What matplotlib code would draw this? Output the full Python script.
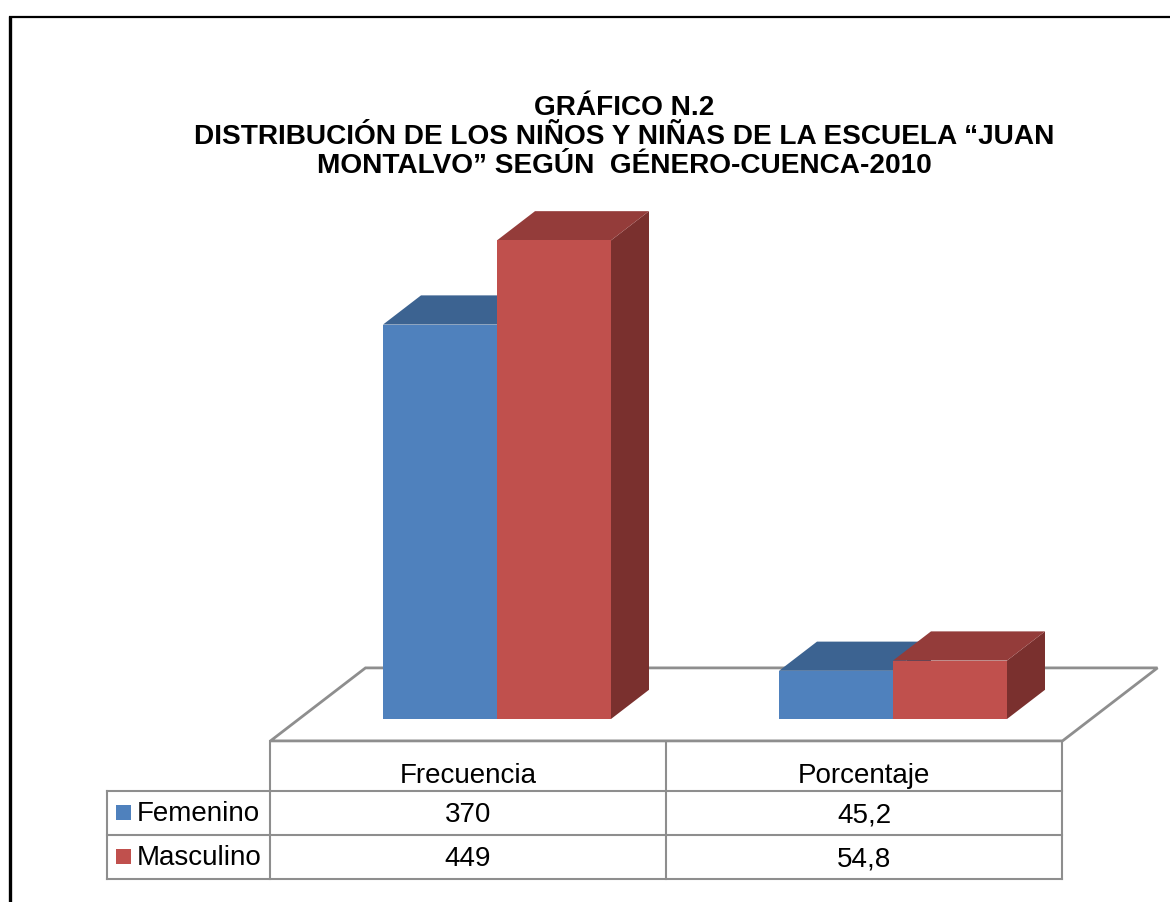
import matplotlib.pyplot as plt
from matplotlib.patches import Polygon, Rectangle

# datos
categorias = ['Frecuencia', 'Porcentaje']
series = ['Femenino', 'Masculino']
femenino = [370, 45.2]
masculino = [449, 54.8]
texto_fem = ['370', '45,2']
texto_mas = ['449', '54,8']

titulo = ('GRÁFICO N.2\n'
          'DISTRIBUCIÓN DE LOS NIÑOS Y NIÑAS DE LA ESCUELA “JUAN\n'
          'MONTALVO” SEGÚN  GÉNERO-CUENCA-2010')

# colores (frente, arriba, lado)
col_fem = ('#4F81BD', '#3C6391', '#2F4E74')
col_mas = ('#C0504D', '#943C3A', '#7A302E')
gris = '#8E8E8E'

plt.rcParams['font.family'] = ['Liberation Sans', 'DejaVu Sans']

W, H = 1170, 902
fig = plt.figure(figsize=(W / 100, H / 100), dpi=100)

# capa en pixeles para marco y tabla
lay = fig.add_axes([0, 0, 1, 1])
lay.set_xlim(0, W)
lay.set_ylim(H, 0)
lay.axis('off')

# ejes de las barras
ymax = 500
ax = fig.add_axes([299 / W, (H - 719) / H, 792 / W, 533 / H])
ax.set_xlim(-0.5, len(categorias) - 0.5)
ax.set_ylim(0, ymax)
ax.axis('off')

# profundidad del piso (en unidades de datos)
px_x = 792 / len(categorias)
px_y = 533 / ymax
fdx, fdy = 95 / px_x, 73 / px_y
bdx, bdy = 0.4 * fdx, 0.4 * fdy

# piso
n = len(categorias)
piso = Polygon([(-0.5 - 0.3 * fdx, -0.3 * fdy), (n - 0.5 - 0.3 * fdx, -0.3 * fdy),
                (n - 0.5 + 0.7 * fdx, 0.7 * fdy), (-0.5 + 0.7 * fdx, 0.7 * fdy)],
               closed=True, facecolor='white', edgecolor=gris, lw=2, clip_on=False,
               joinstyle='miter')
ax.add_patch(piso)


def barra3d(x0, x1, h, cols):
    frente, arriba, lado = cols
    ax.add_patch(Polygon([(x1, 0), (x1 + bdx, bdy), (x1 + bdx, h + bdy), (x1, h)],
                         facecolor=lado, edgecolor='none', clip_on=False))
    ax.add_patch(Polygon([(x0, h), (x1, h), (x1 + bdx, h + bdy), (x0 + bdx, h + bdy)],
                         facecolor=arriba, edgecolor='none', clip_on=False))
    ax.add_patch(Rectangle((x0, 0), x1 - x0, h, facecolor=frente,
                           edgecolor='none', clip_on=False))


w = 114 / px_x
for i in range(n):
    barra3d(i - w, i, femenino[i], col_fem)
    barra3d(i, i + w, masculino[i], col_mas)

# titulo
fig.text(624 / W, 1 - 137 / H, titulo, ha='center', va='center',
         fontsize=20.2, fontweight='bold', linespacing=1.17)

# marco
lay.plot([10, 10], [16, H], color='black', lw=2.4, solid_capstyle='butt')
lay.plot([9, W], [17, 17], color='black', lw=1.6, solid_capstyle='butt')

# tabla
xl, xc0, xc1, xr = 107, 270, 666, 1062
yt, yh, y1, y2 = 741, 791, 835, 879
for x in (xc0, xc1, xr):
    lay.plot([x, x], [yt, y2], color=gris, lw=1.5)
lay.plot([xl, xl], [yh, y2], color=gris, lw=1.5)
for y in (yh, y1, y2):
    lay.plot([xl, xr], [y, y], color=gris, lw=1.5)

cx = [(xc0 + xc1) / 2, (xc1 + xr) / 2]
for j, cat in enumerate(categorias):
    lay.text(cx[j], 776, cat, ha='center', va='center', fontsize=20)
    lay.text(cx[j], 815, texto_fem[j], ha='center', va='center', fontsize=20)
    lay.text(cx[j], 859, texto_mas[j], ha='center', va='center', fontsize=20)

for k, (nombre, cols) in enumerate(zip(series, (col_fem, col_mas))):
    yc = (yh + y1) / 2 if k == 0 else (y1 + y2) / 2
    lay.add_patch(Rectangle((116, yc - 8), 15, 15, facecolor=cols[0], edgecolor='none'))
    lay.text(137, yc + 1, nombre, ha='left', va='center', fontsize=20)

fig.savefig('out.png', dpi=100)
